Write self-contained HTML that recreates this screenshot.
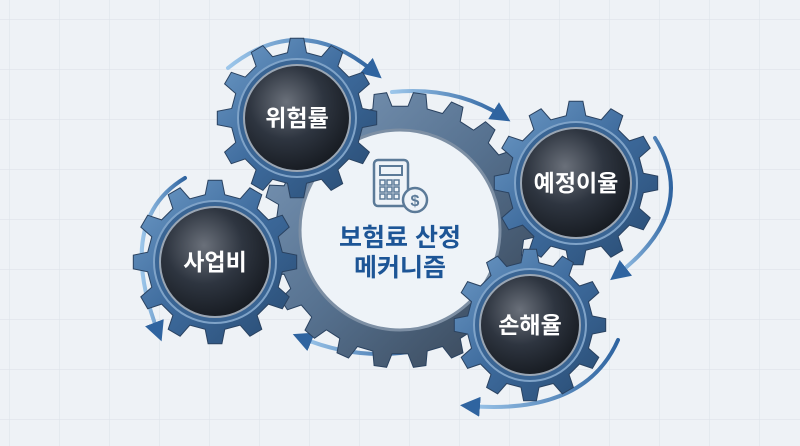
<!DOCTYPE html>
<html><head><meta charset="utf-8"><style>
html,body{margin:0;padding:0;width:800px;height:446px;overflow:hidden;background:#eef2f6}
svg{display:block}
text{font-family:"Liberation Sans","Noto Sans CJK KR",sans-serif;font-weight:700}
</style></head><body>
<svg id="s" width="800" height="446" viewBox="0 0 800 446" xmlns="http://www.w3.org/2000/svg">
<defs>
<pattern id="grid" width="50" height="50" patternUnits="userSpaceOnUse" x="10" y="20">
<path d="M50 0V50H0" fill="none" stroke="#dde3ea" stroke-width="1.2"/></pattern>
<linearGradient id="gb" x1="0" y1="0" x2="1" y2="1"><stop offset="0" stop-color="#6f9cc8"/><stop offset="0.5" stop-color="#3d6a9c"/><stop offset="1" stop-color="#27496f"/></linearGradient>
<linearGradient id="gg" x1="0" y1="0" x2="1" y2="1"><stop offset="0" stop-color="#7f9cbc"/><stop offset="0.5" stop-color="#56718f"/><stop offset="1" stop-color="#333f4e"/></linearGradient>
<radialGradient id="dk" cx="0.4" cy="0.35" r="0.7"><stop offset="0" stop-color="#6a707a"/><stop offset="0.5" stop-color="#2e3540"/><stop offset="1" stop-color="#15191f"/></radialGradient>
<linearGradient id="ar" x1="0" y1="0" x2="1" y2="0"><stop offset="0" stop-color="#9cc6ea"/><stop offset="1" stop-color="#2f64a0"/></linearGradient>
<marker id="m" viewBox="0 0 10 10" refX="5" refY="5" markerWidth="5" markerHeight="5" orient="auto"><path d="M0 0L10 5L0 10z" fill="#2f64a0"/></marker>
</defs>
<rect width="800" height="446" fill="#eef2f6"/>
<rect width="800" height="446" fill="url(#grid)"/>
<g id="g"></g>
</svg>
<script>
const g=document.getElementById('g');const NS='http://www.w3.org/2000/svg';
function el(t,a){const e=document.createElementNS(NS,t);for(const k in a)e.setAttribute(k,a[k]);g.appendChild(e);return e;}
function gear(cx,cy,ro,ri,n,fill){let d='';for(let i=0;i<n;i++){const a=i*2*Math.PI/n;const w=Math.PI/n;
const pts=[[ri,a-w*0.55],[ro,a-w*0.32],[ro,a+w*0.32],[ri,a+w*0.55]];
pts.forEach((p,j)=>{const x=cx+p[0]*Math.cos(p[1]),y=cy+p[0]*Math.sin(p[1]);d+=(i==0&&j==0?'M':'L')+x.toFixed(1)+' '+y.toFixed(1);});}
d+='Z';el('path',{d,fill,stroke:'#2a4260','stroke-width':1});}
function arc(d){el('path',{d,fill:'none',stroke:'url(#ar)','stroke-width':4,'stroke-linecap':'round','marker-end':'url(#m)'});}
arc('M228 68 Q300 10 374 72');
arc('M392 92 Q455 86 502 116');
arc('M655 138 Q700 210 618 274');
arc('M618 340 Q585 415 470 406');
arc('M420 350 Q360 362 302 338');
arc('M185 178 Q115 220 158 332');
gear(400,230,138,124,22,'url(#gg)');
el('circle',{cx:400,cy:230,r:100,fill:'#eef3f8',stroke:'#7d8fa4','stroke-width':3});
const G=[[297,118,80,66,12,'위험률'],[215,262,82,68,12,'사업비'],[576,183,82,68,12,'예정이율'],[530,325,76,63,12,'손해율']];
G.forEach(([x,y,ro,ri,n,t])=>{gear(x,y,ro,ri,n,'url(#gb)');el('circle',{cx:x,cy:y,r:ri-7,fill:'#3a6594',stroke:'#7fa3c8','stroke-width':2});
el('circle',{cx:x,cy:y,r:ri-13,fill:'url(#dk)',stroke:'#9aa6b4','stroke-width':2});
const tx=el('text',{x:x,y:y+8,'text-anchor':'middle','font-size':23,fill:'#fff'});tx.textContent=t;});
el('rect',{x:374,y:160,width:34,height:46,rx:4,fill:'none',stroke:'#5b7a98','stroke-width':2.5});
el('rect',{x:380,y:166,width:22,height:9,fill:'none',stroke:'#5b7a98','stroke-width':2});
for(let r=0;r<3;r++)for(let c=0;c<3;c++)el('rect',{x:380+c*7,y:180+r*7,width:5,height:5,fill:'none',stroke:'#5b7a98','stroke-width':1.5});
el('circle',{cx:415,cy:200,r:12,fill:'#eef3f8',stroke:'#5b7a98','stroke-width':2.5});
const dl=el('text',{x:415,y:206,'text-anchor':'middle','font-size':16,fill:'#5b7a98'});dl.textContent='$';
const t1=el('text',{x:400,y:246,'text-anchor':'middle','font-size':25,fill:'#1d5596'});t1.textContent='보험료 산정';
const t2=el('text',{x:400,y:276,'text-anchor':'middle','font-size':25,fill:'#1d5596'});t2.textContent='메커니즘';
</script>
</body></html>
